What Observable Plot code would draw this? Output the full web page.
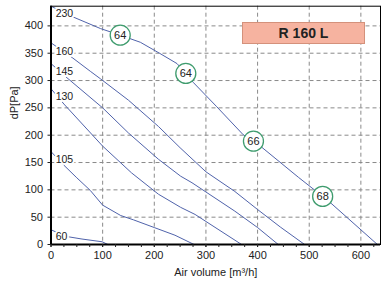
<!DOCTYPE html>
<html>
<head>
<meta charset="utf-8">
<script src="https://cdn.jsdelivr.net/npm/d3@7"></script>
<script src="https://cdn.jsdelivr.net/npm/@observablehq/plot@0.6"></script>
<style>
  html, body { margin: 0; padding: 0; background: white; }
  #wrap { position: relative; width: 387px; height: 282px; }
  #badge {
    position: absolute; left: 242px; top: 21.5px; width: 121px; height: 20.5px;
    background: #f6b3a0; border: 1px solid #d4917b;
    font: bold 14px "Liberation Sans", Arial, sans-serif; color: #222;
    display: flex; align-items: center; justify-content: center;
  }
</style>
</head>
<body>
<div id="wrap"><div id="badge"></div></div>
<script>
// ---- data ----
const title = "R 160 L";
const xLabel = "Air volume [m³/h]";
const yLabel = "dP[Pa]";
const xTicks = [0, 100, 200, 300, 400, 500, 600];
const xMinorTicks = d3.range(0, 640, 25);
const yTicks = [0, 50, 100, 150, 200, 250, 300, 350, 400];
const xGrid = [100, 200, 300, 400, 500, 600];
const yGrid = [50, 100, 150, 200, 250, 300, 350, 400];

const curveNames = ["230", "160", "145", "130", "105", "60"];
const c230x = [0, 41, 96, 134, 173, 210, 244, 261, 276, 320, 372, 392, 408, 479, 526, 544, 632];
const c230y = [436, 417, 395, 383, 370, 350, 331, 313, 296, 253, 201, 189, 178, 123, 88, 74, 0];
const c160x = [0, 41, 76, 96, 150, 208, 250, 300, 356, 400, 444, 491];
const c160y = [369, 342, 317, 303, 264, 216, 177, 133, 97, 64, 32, 0];
const c145x = [0, 31, 100, 150, 208, 251, 273, 356, 400, 440];
const c145y = [331, 305, 250, 204, 156, 125, 113, 61, 31, 0];
const c130x = [0, 25, 100, 156, 208, 251, 279, 369];
const c130y = [285, 257, 180, 131, 92, 68, 55, 0];
const c105x = [0, 25, 50, 76, 100, 135, 160, 200, 240, 277];
const c105y = [170, 145, 122, 99, 72, 53, 45, 31, 17, 0];
const c60x = [0, 28, 60, 99, 110];
const c60y = [27, 15, 10, 5, 0];

const labelX = [9, 9, 9, 9, 9, 9];
const labelY = [422, 352, 317, 270, 155, 15];

const markerX = [134, 261, 392, 526];
const markerY = [383, 313, 189, 88];
const markerText = ["64", "64", "66", "68"];

// ---- tables ----
const curvesX = [c230x, c160x, c145x, c130x, c105x, c60x];
const curvesY = [c230y, c160y, c145y, c130y, c105y, c60y];
const rows = curveNames.flatMap((name, i) =>
  curvesX[i].map((x, j) => ({curve: name, x, y: curvesY[i][j]})));
const labels = curveNames.map((name, i) => ({text: name, x: labelX[i], y: labelY[i]}));
const markers = markerText.map((t, i) => ({text: t, x: markerX[i], y: markerY[i]}));

const font = '"Liberation Sans", Arial, sans-serif';

const chart = Plot.plot({
  width: 387,
  height: 282,
  marginLeft: 50.5,
  marginRight: 7,
  marginTop: 5.7,
  marginBottom: 38,
  x: {domain: [0, 638]},
  y: {domain: [0, 436]},
  style: {fontFamily: font, fontSize: "11px", background: "white", color: "#222"},
  marks: [
    Plot.gridX(xGrid, {stroke: "#8a8a8a", strokeOpacity: 1, strokeDasharray: "4,3"}),
    Plot.gridY(yGrid, {stroke: "#8a8a8a", strokeOpacity: 1, strokeDasharray: "4,3"}),
    Plot.line(rows, {x: "x", y: "y", z: "curve", stroke: "#5063ab", strokeWidth: 1}),
    Plot.frame({stroke: "#000", strokeWidth: 1}),
    Plot.ruleX([0], {stroke: "#000", strokeWidth: 2}),
    Plot.ruleY([0], {stroke: "#000", strokeWidth: 2}),
    Plot.axisX(xMinorTicks, {tickSize: 3, tickFormat: () => "", label: null}),
    Plot.axisX(xTicks, {tickSize: 3, tickPadding: 4, label: null, fontSize: 11}),
    Plot.axisY(yTicks, {tickSize: 3, tickPadding: 5, label: null, fontSize: 11}),
    Plot.text([xLabel], {frameAnchor: "bottom", dy: 28, lineAnchor: "middle", fontSize: 11}),
    Plot.text([yLabel], {frameAnchor: "left", dx: -36.5, dy: -6, rotate: -90, lineAnchor: "middle", fontSize: 11}),
    Plot.text(labels, {x: "x", y: "y", text: "text", textAnchor: "start", fontSize: 10.5,
      fill: "#222", stroke: "white", strokeWidth: 4}),
    Plot.dot(markers, {x: "x", y: "y", r: 10, fill: "white", stroke: "#3f9c6e", strokeWidth: 1.3}),
    Plot.text(markers, {x: "x", y: "y", text: "text", fontSize: 11, fill: "#222"})
  ]
});

document.getElementById("wrap").prepend(chart);
document.getElementById("badge").textContent = title;
</script>
</body>
</html>
